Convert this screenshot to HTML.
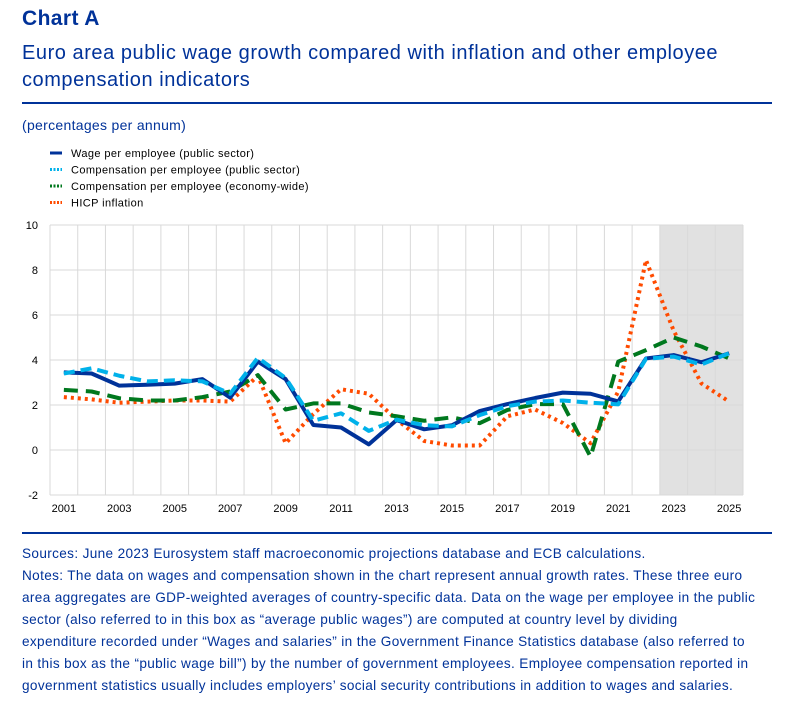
<!DOCTYPE html>
<html><head><meta charset="utf-8"><style>
body{margin:0;background:#fff;width:800px;height:715px;overflow:hidden;font-family:"Liberation Sans",sans-serif;color:#003299;position:relative}
.a{position:absolute}
</style></head><body>
<div class="a" style="left:22px;top:7px;font-size:21px;font-weight:bold;letter-spacing:0.4px">Chart A</div>
<div class="a" style="left:22px;top:40px;font-size:20px;line-height:27px;width:770px;letter-spacing:0.55px">Euro area public wage growth compared with inflation and other employee compensation indicators</div>
<div class="a" style="left:22px;top:102px;width:750px;height:2px;background:#003299"></div>
<div class="a" style="left:22px;top:117px;font-size:14px;letter-spacing:0.3px">(percentages per annum)</div>
<svg class="a" style="left:0;top:0" width="800" height="540" id="chart"></svg>
<div class="a" style="left:22px;top:532px;width:750px;height:2px;background:#003299"></div>
<div class="a" style="left:22px;top:543px;width:770px;white-space:nowrap;font-size:13.6px;line-height:22px;letter-spacing:0.35px">Sources: June 2023 Eurosystem staff macroeconomic projections database and ECB calculations.<br>Notes: The data on wages and compensation shown in the chart represent annual growth rates. These three euro<br>area aggregates are GDP-weighted averages of country-specific data. Data on the wage per employee in the public<br>sector (also referred to in this box as “average public wages”) are computed at country level by dividing<br>expenditure recorded under “Wages and salaries” in the Government Finance Statistics database (also referred to<br>in this box as the “public wage bill”) by the number of government employees. Employee compensation reported in<br>government statistics usually includes employers’ social security contributions in addition to wages and salaries.</div>
<script>
const years=[2001,2002,2003,2004,2005,2006,2007,2008,2009,2010,2011,2012,2013,2014,2015,2016,2017,2018,2019,2020,2021,2022,2023,2024,2025];
const wagePublic=[3.45,3.4,2.86,2.9,2.95,3.15,2.33,3.93,3.15,1.11,1.0,0.25,1.33,0.92,1.1,1.73,2.04,2.31,2.55,2.5,2.16,4.07,4.22,3.9,4.3];
const compPublic=[3.4,3.63,3.3,3.05,3.1,3.05,2.5,4.1,3.2,1.3,1.63,0.85,1.35,1.1,1.05,1.55,1.95,2.15,2.2,2.1,2.03,4.05,4.15,3.8,4.3];
const compEconomy=[2.67,2.6,2.3,2.2,2.2,2.35,2.6,3.33,1.8,2.07,2.07,1.67,1.5,1.3,1.45,1.19,1.78,2.04,2.04,-0.3,3.93,4.44,5.0,4.6,4.07];
const hicp=[2.35,2.25,2.1,2.15,2.2,2.2,2.15,3.3,0.3,1.6,2.7,2.5,1.35,0.4,0.2,0.2,1.5,1.8,1.2,0.3,2.6,8.44,5.3,2.96,2.15];
const yTicks=[-2,0,2,4,6,8,10];
const xLabels=[2001,2003,2005,2007,2009,2011,2013,2015,2017,2019,2021,2023,2025];
const projStart=2023;
const NS="http://www.w3.org/2000/svg";
const svg=document.getElementById('chart');
const L=50,R=743,T=225,B=495,bw=(R-L)/years.length;
const x=y=>L+bw*(y-years[0]+0.5);
const yv=v=>T+(10-v)*(B-T)/12;
function mk(t,a){const e=document.createElementNS(NS,t);for(const k in a)e.setAttribute(k,a[k]);svg.appendChild(e);return e;}
let sh=mk('rect',{x:x(projStart)-bw/2,y:T,width:R-(x(projStart)-bw/2),height:B-T,fill:'#e1e1e1'});


for(let i=0;i<=years.length;i++){const g=mk('line',{x1:L+bw*i,x2:L+bw*i,y1:T,y2:B,stroke:'#d9d9d9','stroke-width':1});

}
yTicks.forEach(v=>{const g=mk('line',{x1:L,x2:R,y1:yv(v),y2:yv(v),stroke:'#d9d9d9','stroke-width':1});


const t=mk('text',{x:38,y:yv(v)+4,'text-anchor':'end','font-size':11,fill:'#000'});t.textContent=v;

});
xLabels.forEach(v=>{const t=mk('text',{x:x(v),y:512,'text-anchor':'middle','font-size':11,fill:'#000'});t.textContent=v;

});
const series=[
 {d:hicp,c:'#ff4b00',w:4,da:'3,4',n:'hicp-inflation-line',lab:'HICP inflation'},
 {d:compEconomy,c:'#00781e',w:4,da:'14,8',n:'comp-economy-line',lab:'Compensation per employee (economy-wide)'},
 {d:wagePublic,c:'#003299',w:4,da:'',n:'wage-public-line',lab:'Wage per employee (public sector)'},
 {d:compPublic,c:'#00b1ea',w:4,da:'11,6',n:'comp-public-line',lab:'Compensation per employee (public sector)'}];
series.forEach(s=>{const p=mk('polyline',{points:s.d.map((v,i)=>x(years[i])+','+yv(v)).join(' '),fill:'none',stroke:s.c,'stroke-width':s.w,'stroke-dasharray':s.da,'stroke-linejoin':'round'});

});
const leg=[series[2],series[3],series[1],series[0]];
leg.forEach((s,i)=>{const yy=153+i*16.5;
const r=mk('line',{x1:50,x2:62,y1:yy,y2:yy,stroke:s.c,'stroke-width':3,'stroke-dasharray':s.da?'2,1.5':''});


const t=mk('text',{x:71,y:yy+4,'font-size':11,fill:'#000','letter-spacing':0.4});t.textContent=s.lab;

});
</script>
</body></html>
